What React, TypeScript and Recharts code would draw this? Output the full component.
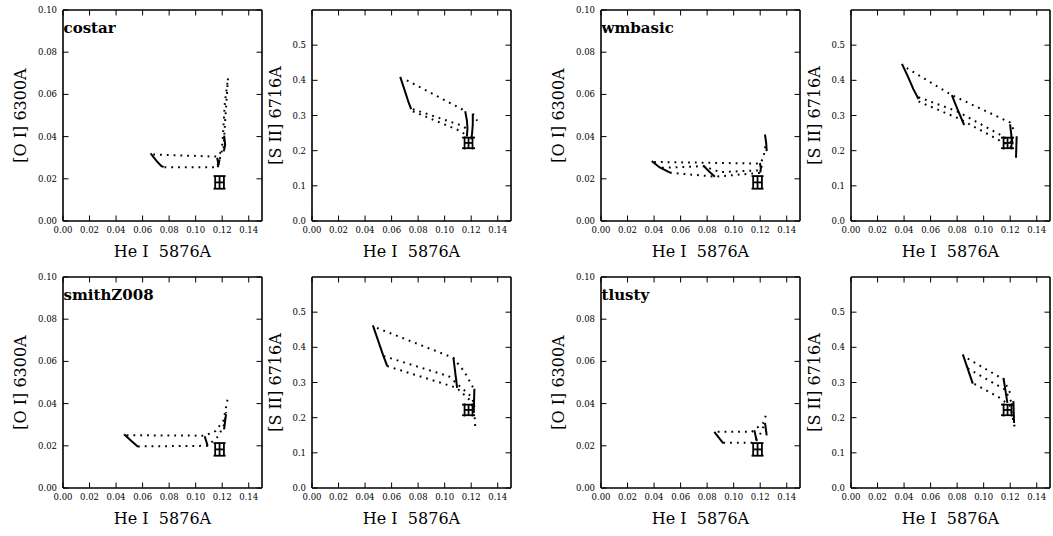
import React from 'react';
import { ComposedChart, Line, Scatter, XAxis, YAxis, ErrorBar } from 'recharts';

type Pair = [number, number];

// ---------- tick values ----------
const xTicks = [0, 0.02, 0.04, 0.06, 0.08, 0.1, 0.12, 0.14];
const oiTicks = [0, 0.02, 0.04, 0.06, 0.08, 0.1];
const siiTicks = [0, 0.1, 0.2, 0.3, 0.4, 0.5];

// ---------- observations ----------
const obsOI = [{ x: 0.118, y: 0.0183, ex: 0.0033, ey: 0.003 }];
const obsSII = [{ x: 0.118, y: 0.222, ex: 0.003, ey: 0.015 }];

// ---------- costar ----------
const costarOISolid: Pair[][] = [
  [[0.066, 0.032], [0.0705, 0.0285], [0.0738, 0.0262], [0.0758, 0.0255]],
  [[0.1162, 0.0300], [0.1172, 0.0268], [0.1166, 0.0255]],
  [[0.1180, 0.0292], [0.1172, 0.0268]],
  [[0.1212, 0.0330], [0.1222, 0.0360], [0.1215, 0.0405]],
];
const costarOIDotted: Pair[][] = [
  [[0.068, 0.0315], [0.1165, 0.0305], [0.1210, 0.0345], [0.1225, 0.0500], [0.1245, 0.0690]],
  [[0.0765, 0.0255], [0.1160, 0.0255], [0.1195, 0.0320], [0.1205, 0.0400], [0.1220, 0.0560], [0.1240, 0.0660]],
];
const costarSIISolid: Pair[][] = [
  [[0.0665, 0.410], [0.0700, 0.370], [0.0730, 0.335], [0.0748, 0.318]],
  [[0.1155, 0.312], [0.1168, 0.285], [0.1172, 0.262], [0.1167, 0.240]],
  [[0.1212, 0.305], [0.1212, 0.275], [0.1207, 0.250], [0.1200, 0.232]],
];
const costarSIIDotted: Pair[][] = [
  [[0.0715, 0.400], [0.1150, 0.314]],
  [[0.0760, 0.318], [0.1124, 0.272], [0.1168, 0.262]],
  [[0.0760, 0.312], [0.1124, 0.255], [0.1165, 0.242]],
  [[0.1212, 0.305], [0.1245, 0.285]],
];

// ---------- wmbasic ----------
const wmbasicOISolid: Pair[][] = [
  [[0.0382, 0.0284], [0.0440, 0.0255], [0.0520, 0.0229]],
  [[0.0771, 0.0263], [0.0815, 0.0235], [0.0859, 0.0210]],
  [[0.1198, 0.0275], [0.1205, 0.0250], [0.1200, 0.0230]],
  [[0.1236, 0.0410], [0.1245, 0.0370], [0.1249, 0.0331]],
];
const wmbasicOIDotted: Pair[][] = [
  [[0.0400, 0.0280], [0.1198, 0.0272], [0.1225, 0.0300], [0.1240, 0.0360]],
  [[0.0460, 0.0252], [0.0771, 0.0260], [0.0897, 0.0232], [0.1198, 0.0240], [0.1220, 0.0270]],
  [[0.0520, 0.0229], [0.0859, 0.0210], [0.1198, 0.0228]],
];
const wmbasicSIISolid: Pair[][] = [
  [[0.0384, 0.447], [0.0430, 0.410], [0.0470, 0.375], [0.0509, 0.347]],
  [[0.0760, 0.358], [0.0800, 0.320], [0.0853, 0.273]],
  [[0.1199, 0.275], [0.1210, 0.240], [0.1219, 0.218]],
  [[0.1249, 0.241], [0.1246, 0.210], [0.1244, 0.180]],
];
const wmbasicSIIDotted: Pair[][] = [
  [[0.0420, 0.435], [0.0760, 0.358], [0.1199, 0.280], [0.1240, 0.250]],
  [[0.0509, 0.352], [0.0800, 0.312], [0.1150, 0.240], [0.1220, 0.220]],
  [[0.0509, 0.340], [0.0820, 0.290], [0.1140, 0.225], [0.1230, 0.205]],
];

// ---------- smithZ008 ----------
const smithOISolid: Pair[][] = [
  [[0.0460, 0.0255], [0.0520, 0.0220], [0.0565, 0.0195]],
  [[0.1068, 0.0245], [0.1090, 0.0200]],
  [[0.1229, 0.0350], [0.1214, 0.0278]],
];
const smithOIDotted: Pair[][] = [
  [[0.0480, 0.0250], [0.1068, 0.0248], [0.1150, 0.0270], [0.1210, 0.0320], [0.1240, 0.0420]],
  [[0.0565, 0.0197], [0.1090, 0.0200], [0.1170, 0.0245], [0.1215, 0.0300], [0.1230, 0.0360]],
];
const smithSIISolid: Pair[][] = [
  [[0.0459, 0.4625], [0.0534, 0.380], [0.0567, 0.3466]],
  [[0.1066, 0.370], [0.1094, 0.2848]],
  [[0.1224, 0.282], [0.1219, 0.2136]],
];
const smithSIIDotted: Pair[][] = [
  [[0.0490, 0.455], [0.1066, 0.370], [0.1150, 0.330], [0.1215, 0.285]],
  [[0.0540, 0.375], [0.1030, 0.318], [0.1200, 0.260], [0.1230, 0.232]],
  [[0.0567, 0.3466], [0.1090, 0.285], [0.1190, 0.250], [0.1225, 0.210], [0.1230, 0.175]],
];

// ---------- tlusty ----------
const tlustyOISolid: Pair[][] = [
  [[0.0854, 0.0266], [0.0922, 0.0211]],
  [[0.1156, 0.0274], [0.1174, 0.0222]],
  [[0.1236, 0.0308], [0.1249, 0.0249]],
];
const tlustyOIDotted: Pair[][] = [
  [[0.0880, 0.0266], [0.1136, 0.0266], [0.1223, 0.0308], [0.1249, 0.0356]],
  [[0.0922, 0.0215], [0.1149, 0.0214], [0.1198, 0.0253], [0.1230, 0.0300]],
];
const tlustySIISolid: Pair[][] = [
  [[0.0843, 0.380], [0.0918, 0.297]],
  [[0.1149, 0.313], [0.1179, 0.242]],
  [[0.1224, 0.247], [0.1229, 0.185]],
];
const tlustySIIDotted: Pair[][] = [
  [[0.0880, 0.368], [0.1149, 0.309], [0.1212, 0.261]],
  [[0.0880, 0.340], [0.1160, 0.280], [0.1215, 0.240]],
  [[0.0930, 0.296], [0.1124, 0.256], [0.1199, 0.233], [0.1237, 0.168]],
];

const FONT = 'DejaVu Serif';
const PLOT_W = 199;
const PLOT_H = 211;
const Y_AXIS_W = 55;
const X_AXIS_H = 45;

const toPts = (line: Pair[]) => line.map(([x, y]) => ({ x, y }));

const fmt = (v: number, d: number) => v.toFixed(d);

const BottomTick = (props: any) => {
  const { x, y, payload } = props;
  return (
    <g>
      <line x1={x} y1={y} x2={x} y2={y - 5.5} stroke="#000" strokeWidth={1} />
      <text x={x} y={y + 12} textAnchor="middle" fontFamily={FONT} fontSize={8.5} fill="#000">
        {fmt(payload.value, 2)}
      </text>
    </g>
  );
};
const TopTick = (props: any) => {
  const { x, y } = props;
  return <line x1={x} y1={y} x2={x} y2={y + 5.5} stroke="#000" strokeWidth={1} />;
};
const makeLeftTick = (digits: number) => (props: any) => {
  const { x, y, payload } = props;
  return (
    <g>
      <line x1={x} y1={y} x2={x + 5.5} y2={y} stroke="#000" strokeWidth={1} />
      <text x={x - 6} y={y + 3} textAnchor="end" fontFamily={FONT} fontSize={8.5} fill="#000">
        {fmt(payload.value, digits)}
      </text>
    </g>
  );
};
const RightTick = (props: any) => {
  const { x, y } = props;
  return <line x1={x} y1={y} x2={x - 5.5} y2={y} stroke="#000" strokeWidth={1} />;
};

const frame = { stroke: '#000', strokeWidth: 1.6 };

type PanelProps = {
  left: number;
  top: number;
  kind: 'oi' | 'sii';
  solid: Pair[][];
  dotted: Pair[][];
};

function Panel({ left, top, kind, solid, dotted }: PanelProps) {
  const isOI = kind === 'oi';
  const yMax = isOI ? 0.1 : 0.6;
  const yTicks = isOI ? oiTicks : siiTicks;
  const obs = isOI ? obsOI : obsSII;
  const capX = isOI ? 6.5 : 6.5;
  const capY = isOI ? 6 : 6.5;
  const LeftTick = makeLeftTick(isOI ? 2 : 1);
  return (
    <div style={{ position: 'absolute', left: left - Y_AXIS_W, top: top - 10 }}>
      <ComposedChart
        width={Y_AXIS_W + PLOT_W + 1 + 5}
        height={9 + 1 + PLOT_H + X_AXIS_H}
        margin={{ top: 9, right: 5, left: 0, bottom: 0 }}
      >
        <XAxis
          xAxisId="b"
          type="number"
          dataKey="x"
          domain={[0, 0.15]}
          ticks={xTicks}
          interval={0}
          orientation="bottom"
          height={X_AXIS_H}
          tickSize={0}
          tickMargin={0}
          axisLine={frame}
          tickLine={false}
          tick={BottomTick}
          allowDataOverflow
        />
        <XAxis
          xAxisId="t"
          type="number"
          dataKey="x"
          domain={[0, 0.15]}
          ticks={xTicks}
          interval={0}
          orientation="top"
          height={1}
          tickSize={0}
          tickMargin={0}
          axisLine={frame}
          tickLine={false}
          tick={TopTick}
          allowDataOverflow
        />
        <YAxis
          yAxisId="l"
          type="number"
          dataKey="y"
          domain={[0, yMax]}
          ticks={yTicks}
          interval={0}
          orientation="left"
          width={Y_AXIS_W}
          tickSize={0}
          tickMargin={0}
          axisLine={frame}
          tickLine={false}
          tick={LeftTick}
          allowDataOverflow
        />
        <YAxis
          yAxisId="r"
          type="number"
          dataKey="y"
          domain={[0, yMax]}
          ticks={yTicks}
          interval={0}
          orientation="right"
          width={1}
          tickSize={0}
          tickMargin={0}
          axisLine={frame}
          tickLine={false}
          tick={RightTick}
          allowDataOverflow
        />
        {dotted.map((ln, i) => (
          <Line
            key={'d' + i}
            xAxisId="b"
            yAxisId="l"
            data={toPts(ln)}
            dataKey="y"
            stroke="#000"
            strokeWidth={2}
            strokeDasharray="1.8 5"
            dot={false}
            activeDot={false}
            isAnimationActive={false}
            type="linear"
          />
        ))}
        {solid.map((ln, i) => (
          <Line
            key={'s' + i}
            xAxisId="b"
            yAxisId="l"
            data={toPts(ln)}
            dataKey="y"
            stroke="#000"
            strokeWidth={2}
            dot={false}
            activeDot={false}
            isAnimationActive={false}
            type="linear"
          />
        ))}
        <Scatter
          xAxisId="b"
          yAxisId="l"
          data={obs}
          dataKey="y"
          shape={() => <g />}
          isAnimationActive={false}
        >
          <ErrorBar dataKey="ex" direction="x" width={capX} stroke="#000" strokeWidth={1.8} isAnimationActive={false} />
          <ErrorBar dataKey="ey" direction="y" width={capY} stroke="#000" strokeWidth={1.8} isAnimationActive={false} />
        </Scatter>
      </ComposedChart>
    </div>
  );
}

const plotLefts = [63, 312, 601, 851];
const plotTops = [10, 277];

const panels = [
  { name: 'costar', row: 0, pair: 0, oiS: costarOISolid, oiD: costarOIDotted, sS: costarSIISolid, sD: costarSIIDotted },
  { name: 'wmbasic', row: 0, pair: 1, oiS: wmbasicOISolid, oiD: wmbasicOIDotted, sS: wmbasicSIISolid, sD: wmbasicSIIDotted },
  { name: 'smithZ008', row: 1, pair: 0, oiS: smithOISolid, oiD: smithOIDotted, sS: smithSIISolid, sD: smithSIIDotted },
  { name: 'tlusty', row: 1, pair: 1, oiS: tlustyOISolid, oiD: tlustyOIDotted, sS: tlustySIISolid, sD: tlustySIIDotted },
];

export default function App() {
  return (
    <div style={{ position: 'absolute', left: 0, top: 0, width: 1053, height: 536, background: '#fff', overflow: 'hidden' }}>
      {panels.map((p) => {
        const top = plotTops[p.row];
        const lOI = plotLefts[p.pair * 2];
        const lS = plotLefts[p.pair * 2 + 1];
        return (
          <React.Fragment key={p.name}>
            <Panel left={lOI} top={top} kind="oi" solid={p.oiS} dotted={p.oiD} />
            <Panel left={lS} top={top} kind="sii" solid={p.sS} dotted={p.sD} />
          </React.Fragment>
        );
      })}
      <svg width={1053} height={536} style={{ position: 'absolute', left: 0, top: 0, pointerEvents: 'none' }}>
        {panels.map((p) => {
          const top = plotTops[p.row];
          const lOI = plotLefts[p.pair * 2];
          const lS = plotLefts[p.pair * 2 + 1];
          const cy = top + PLOT_H / 2;
          return (
            <g key={p.name}>
              <text x={lOI + 0.5} y={top + 22.5} fontFamily={FONT} fontWeight="bold" fontSize={15} fill="#000">
                {p.name}
              </text>
              {[lOI, lS].map((l) => (
                <text
                  key={'xl' + l}
                  x={l + PLOT_W / 2}
                  y={top + PLOT_H + 36}
                  textAnchor="middle"
                  fontFamily={FONT}
                  fontSize={16}
                  fill="#000"
                  style={{ whiteSpace: 'pre' }}
                >
                  {'He I  5876A'}
                </text>
              ))}
              <text
                transform={`translate(${lOI - 43},${cy}) rotate(-90)`}
                textAnchor="middle"
                dominantBaseline="central"
                fontFamily={FONT}
                fontSize={16}
                fill="#000"
              >
                {'[O I] 6300A'}
              </text>
              <text
                transform={`translate(${lS - 37},${cy}) rotate(-90)`}
                textAnchor="middle"
                dominantBaseline="central"
                fontFamily={FONT}
                fontSize={16}
                fill="#000"
              >
                {'[S II] 6716A'}
              </text>
            </g>
          );
        })}
      </svg>
    </div>
  );
}
